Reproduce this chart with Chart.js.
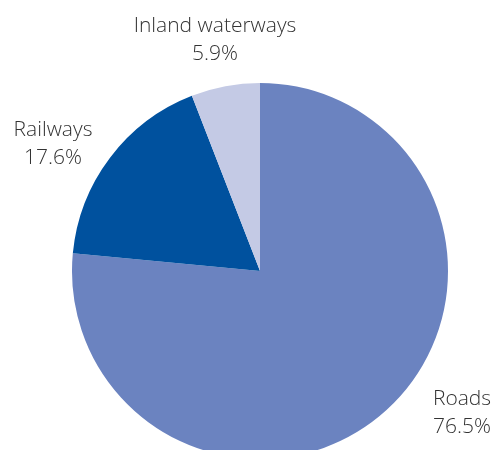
<!DOCTYPE html>
<html>
<head>
<meta charset="utf-8">
<script src="https://cdn.jsdelivr.net/npm/chart.js@4"></script>
<style>
    html, body { margin: 0; padding: 0; background: #fff; overflow: hidden; }
    #wrap { width: 494px; height: 450px; overflow: hidden; }
</style>
</head>
<body>
<div id="wrap"><canvas id="modalChart" width="494" height="460"></canvas></div>
<script>
const categories = ['Roads', 'Railways', 'Inland waterways'];
const shares = [76.5, 17.6, 5.9];
const sliceColors = ['#6b83c0', '#00519e', '#c4cae5'];

// where each caption sits (centre x, first baseline y)
const captionSpots = [
    { x: 462, y: 405 },
    { x: 53, y: 136 },
    { x: 215, y: 32 }
];

const captionPlugin = {
    id: 'captions',
    afterDraw(chart) {
        const ctx = chart.ctx;
        ctx.save();
        ctx.fillStyle = '#333333';
        ctx.font = '300 21px "Open Sans", "Noto Sans", sans-serif';
        ctx.textAlign = 'center';
        ctx.textBaseline = 'alphabetic';
        categories.forEach((name, i) => {
            const spot = captionSpots[i];
            ctx.fillText(name, spot.x, spot.y);
            ctx.fillText(shares[i].toFixed(1) + '%', spot.x, spot.y + 28);
        });
        ctx.restore();
    }
};

new Chart(document.getElementById('modalChart').getContext('2d'), {
    type: 'pie',
    data: {
        labels: categories,
        datasets: [{
            data: shares,
            backgroundColor: sliceColors,
            borderWidth: 0,
            hoverOffset: 0
        }]
    },
    options: {
        responsive: false,
        animation: false,
        layout: { padding: { top: 83, bottom: 1, left: 72, right: 46 } },
        plugins: {
            legend: { display: false },
            tooltip: { enabled: false }
        }
    },
    plugins: [captionPlugin]
});
</script>
</body>
</html>
